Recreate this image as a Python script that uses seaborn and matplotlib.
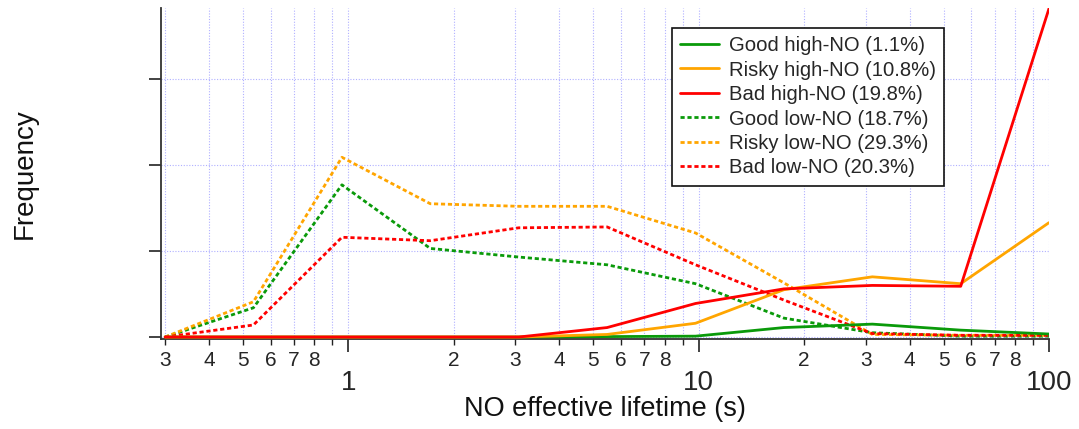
import numpy as np
import pandas as pd
import matplotlib
matplotlib.use("Agg")
import matplotlib.pyplot as plt
import seaborn as sns
from matplotlib.ticker import FixedLocator, FuncFormatter, NullFormatter
from matplotlib.lines import Line2D

# Bin centres of the NO effective lifetime histogram (s), log-spaced
lifetime_s = [0.3, 0.536, 0.959, 1.714, 3.065, 5.479, 9.796, 17.51, 31.31, 55.98, 100.0]

# Frequency per bin for each regime
good_high = [0, 0, 0, 0, 0, 0.005, 0.01, 0.11, 0.15, 0.08, 0.035]
risky_high = [0, 0, 0, 0, 0, 0.03, 0.16, 0.55, 0.70, 0.62, 1.33]
bad_high = [0, 0, 0, 0, 0, 0.11, 0.39, 0.56, 0.60, 0.59, 3.82]
good_low = [0, 0.34, 1.77, 1.03, 0.93, 0.84, 0.62, 0.22, 0.05, 0.01, 0.01]
risky_low = [0, 0.41, 2.09, 1.55, 1.52, 1.52, 1.21, 0.63, 0.03, 0.02, 0.02]
bad_low = [0, 0.14, 1.16, 1.12, 1.27, 1.28, 0.84, 0.43, 0.04, 0.02, 0.02]

labels = ["Good high-NO (1.1%)", "Risky high-NO (10.8%)", "Bad high-NO (19.8%)",
          "Good low-NO (18.7%)", "Risky low-NO (29.3%)", "Bad low-NO (20.3%)"]

sns.set_theme(style="white")
plt.rcParams["font.family"] = ["Liberation Sans", "DejaVu Sans"]

GREEN, ORANGE, RED = "#0a9a0a", "#ffa500", "#ff0000"
DOT = (0, (1.5, 1.0))

fig = plt.figure(figsize=(10.79, 4.29), dpi=100)
ax = fig.add_axes([161 / 1079, 1 - 339 / 429, (1049 - 161) / 1079, (339 - 8) / 429])

series = [
    (good_low, GREEN, DOT, 2.0),
    (risky_low, ORANGE, DOT, 2.0),
    (bad_low, RED, DOT, 2.0),
    (good_high, GREEN, "-", 2.0),
    (risky_high, ORANGE, "-", 2.0),
    (bad_high, RED, "-", 2.0),
]
for vals, col, ls, lw in series:
    sns.lineplot(x=lifetime_s, y=vals, ax=ax, color=col, linestyle=ls,
                 linewidth=lw, legend=False, zorder=3)

ax.set_xscale("log")
ax.set_xlim(0.292, 100)
ax.set_ylim(-0.023, 3.826)

majors = [1, 10, 100]
minors = [d * 10.0 ** e for e in (-1, 0, 1) for d in range(2, 10) if d * 10.0 ** e > 0.29]
ax.xaxis.set_major_locator(FixedLocator(majors))
ax.xaxis.set_minor_locator(FixedLocator(minors))
ax.xaxis.set_major_formatter(FuncFormatter(lambda v, p: f"{v:g}"))


def minor_label(v, pos):
    digit = int(round(v / 10 ** np.floor(np.log10(v))))
    return "" if digit == 9 else str(digit)


ax.xaxis.set_minor_formatter(FuncFormatter(minor_label))
ax.set_yticks([0, 1, 2, 3])
ax.yaxis.set_major_formatter(NullFormatter())

ax.tick_params(axis="x", which="major", direction="out", length=9, width=1.2,
               color="#222222", labelsize=20, pad=13, bottom=True)
ax.tick_params(axis="x", which="minor", direction="out", length=4.5, width=1.0,
               color="#222222", labelsize=15, pad=4, bottom=True)
ax.tick_params(axis="y", which="major", direction="out", length=9, width=1.2,
               color="#222222", left=True)

ax.grid(True, which="both", axis="x", color="#b0b0ff", linestyle=(0, (1, 1.5)), linewidth=0.8)
ax.grid(True, which="major", axis="y", color="#b0b0ff", linestyle=(0, (1, 1.5)), linewidth=0.8)

for side in ("top", "right"):
    ax.spines[side].set_visible(False)
for side in ("left", "bottom"):
    ax.spines[side].set_color("#333333")
    ax.spines[side].set_linewidth(1.3)

ax.set_xlabel("NO effective lifetime (s)", fontsize=19.5, labelpad=0, color="#111111")
ax.set_ylabel("Frequency", fontsize=20, labelpad=76, color="#111111")

handles = [
    Line2D([], [], color=GREEN, lw=2.0),
    Line2D([], [], color=ORANGE, lw=2.0),
    Line2D([], [], color=RED, lw=2.0),
    Line2D([], [], color=GREEN, lw=2.0, linestyle=DOT),
    Line2D([], [], color=ORANGE, lw=2.0, linestyle=DOT),
    Line2D([], [], color=RED, lw=2.0, linestyle=DOT),
]
leg = fig.legend(handles, labels, loc="upper left",
                 bbox_to_anchor=(672 / 1079, 1 - 28 / 429), borderaxespad=0,
                 fontsize=14.6, frameon=True, fancybox=False, framealpha=1,
                 edgecolor="#111111", handlelength=1.9, handletextpad=0.5,
                 labelspacing=0.27, borderpad=0.4)
leg.get_frame().set_linewidth(1.2)

fig.savefig("out.png", dpi=100)
